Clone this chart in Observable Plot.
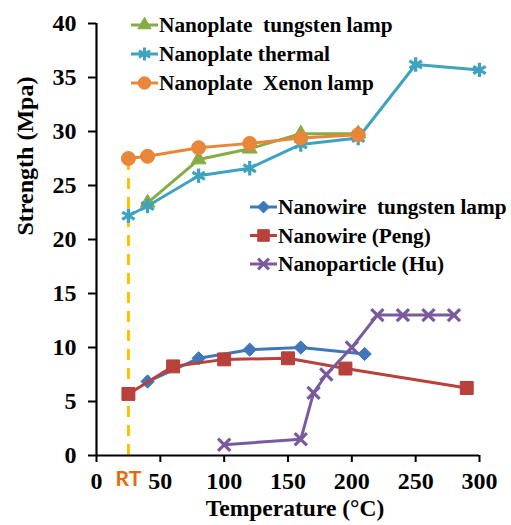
<!DOCTYPE html>
<html>
<head>
<meta charset="utf-8">
<script src="https://cdn.jsdelivr.net/npm/d3@7"></script>
<script src="https://cdn.jsdelivr.net/npm/@observablehq/plot@0.6"></script>
<style>
  html, body { margin: 0; padding: 0; background: #fff; }
  #chart { width: 511px; height: 525px; }
</style>
</head>
<body>
<div id="chart"></div>
<script>
// ---- data ----
const xTicks = [0, 50, 100, 150, 200, 250, 300];
const yTicks = [0, 5, 10, 15, 20, 25, 30, 35, 40];

const plateTungstenT = [40, 80, 120, 160, 205];
const plateTungstenS = [23.4, 27.4, 28.4, 29.8, 29.8];

const plateThermalT = [25, 40, 80, 120, 160, 205, 250, 300];
const plateThermalS = [22.2, 23.1, 25.9, 26.6, 28.8, 29.4, 36.2, 35.7];

const plateXenonT = [25, 40, 80, 120, 160, 205];
const plateXenonS = [27.5, 27.7, 28.5, 28.9, 29.4, 29.7];

const wireTungstenT = [40, 80, 120, 160, 210];
const wireTungstenS = [6.85, 9.0, 9.8, 10.0, 9.4];

const wirePengT = [25, 60, 100, 150, 195, 290];
const wirePengS = [5.7, 8.25, 8.9, 9.0, 8.05, 6.25];

const particleHuT = [100, 160, 170, 180, 200, 220, 240, 260, 280];
const particleHuS = [1.0, 1.5, 5.8, 7.5, 10.0, 13.0, 13.0, 13.0, 13.0];

const rtTemp = 25;
const rtTop = 27.5;
const rtLabel = "RT";

const seriesNames = [
  "Nanoplate  tungsten lamp", "Nanoplate thermal", "Nanoplate  Xenon lamp",
  "Nanowire  tungsten lamp", "Nanowire (Peng)", "Nanoparticle (Hu)"
];

// ---- styling ----
const series = [
  {name: seriesNames[0], t: plateTungstenT, s: plateTungstenS, color: "#86AC45", symbol: "triangle", r: 5.5, filled: true},
  {name: seriesNames[1], t: plateThermalT, s: plateThermalS, color: "#3FA3BF", symbol: "asterisk", r: 6.8, filled: false},
  {name: seriesNames[2], t: plateXenonT, s: plateXenonS, color: "#E8863A", symbol: "circle", r: 7, filled: true},
  {name: seriesNames[3], t: wireTungstenT, s: wireTungstenS, color: "#3F77BA", symbol: "diamond2", r: 6, filled: true},
  {name: seriesNames[4], t: wirePengT, s: wirePengS, color: "#B8413C", symbol: "square", r: 7.3, filled: true},
  {name: seriesNames[5], t: particleHuT, s: particleHuS, color: "#7A5A9E", symbol: "times", r: 5.6, filled: false}
];

const serif = "'Liberation Serif', 'Times New Roman', serif";

const marks = [];
marks.push(Plot.ruleX([rtTemp], {y1: 0, y2: rtTop, stroke: "#FFC000", strokeWidth: 3, strokeDasharray: "11,8"}));

for (const sr of series) {
  const rows = sr.t.map((t, i) => ({t, s: sr.s[i]}));
  marks.push(Plot.line(rows, {x: "t", y: "s", stroke: sr.color, strokeWidth: 3}));
  marks.push(Plot.dot(rows, sr.filled
    ? {x: "t", y: "s", symbol: sr.symbol, r: sr.r, fill: sr.color, stroke: sr.color, strokeWidth: 1}
    : {x: "t", y: "s", symbol: sr.symbol, r: sr.r, fill: "none", stroke: sr.color, strokeWidth: 3.2}));
}

marks.push(Plot.ruleY([0], {stroke: "black", strokeWidth: 2.2}));
marks.push(Plot.ruleX([0], {stroke: "black", strokeWidth: 2.2}));
marks.push(Plot.axisX({ticks: xTicks, tickSize: 7, tickPadding: 9, strokeWidth: 2, fill: "black", stroke: "black",
  fontSize: 24, label: null}));
marks.push(Plot.axisY({ticks: yTicks, tickSize: 8, tickPadding: 12, strokeWidth: 2, fill: "black", stroke: "black",
  fontSize: 24, label: null}));

marks.push(Plot.text(["Temperature (°C)"], {frameAnchor: "bottom", dy: 60, dx: 7, fontSize: 23.5, fill: "black"}));
marks.push(Plot.text(["Strength (Mpa)"], {frameAnchor: "left", rotate: -90, dx: -71, dy: -4, fontSize: 24, fill: "black"}));
marks.push(Plot.text([rtLabel], {x: () => rtTemp, y: () => 0, dy: 24, fontSize: 21, fill: "#E46C0A"}));

const chart = Plot.plot({
  width: 511,
  height: 525,
  marginLeft: 96,
  marginRight: 32,
  marginTop: 23,
  marginBottom: 70,
  x: {domain: [0, 300]},
  y: {domain: [0, 40]},
  style: {background: "white", color: "black", overflow: "visible"},
  marks
});

document.getElementById("chart").appendChild(chart);

// ---- legends (pixel layout) ----
const svg = d3.select(chart);
const symMap = {triangle: d3.symbolTriangle, asterisk: d3.symbolAsterisk, circle: d3.symbolCircle,
  diamond2: d3.symbolDiamond2, square: d3.symbolSquare, times: d3.symbolTimes};
function legend(items, x0, y0, dy) {
  const g = svg.append("g").attr("text-anchor", "start");
  items.forEach((sr, i) => {
    const y = y0 + i * dy;
    g.append("line").attr("x1", x0).attr("x2", x0 + 27).attr("y1", y).attr("y2", y)
      .attr("stroke", sr.color).attr("stroke-width", 3);
    const path = d3.symbol(symMap[sr.symbol], Math.PI * sr.r * sr.r * 0.8)();
    g.append("path").attr("d", path).attr("transform", `translate(${x0 + 13.5},${y})`)
      .attr("fill", sr.filled ? sr.color : "none").attr("stroke", sr.color)
      .attr("stroke-width", sr.filled ? 1 : 3);
    g.append("text").attr("class", "legend-text").attr("x", x0 + 28).attr("y", y).attr("dy", "0.33em")
      .attr("text-anchor", "start")
      .attr("fill", "black").style("white-space", "pre").style("font-size", "21.3px").text(sr.name);
  });
}
legend(series.slice(0, 3), 131, 25, 29);
legend(series.slice(3, 6), 250, 207, 28.5);

// ---- fonts: inline styles on every text ----
svg.selectAll("text").each(function () {
  const el = d3.select(this);
  if (this.textContent === rtLabel) {
    el.style("font-family", "Lato, 'Open Sans', sans-serif").style("font-weight", "bold").style("font-size", "21px");
  } else {
    el.style("font-family", serif).style("font-weight", "bold");
  }
});
</script>
</body>
</html>
